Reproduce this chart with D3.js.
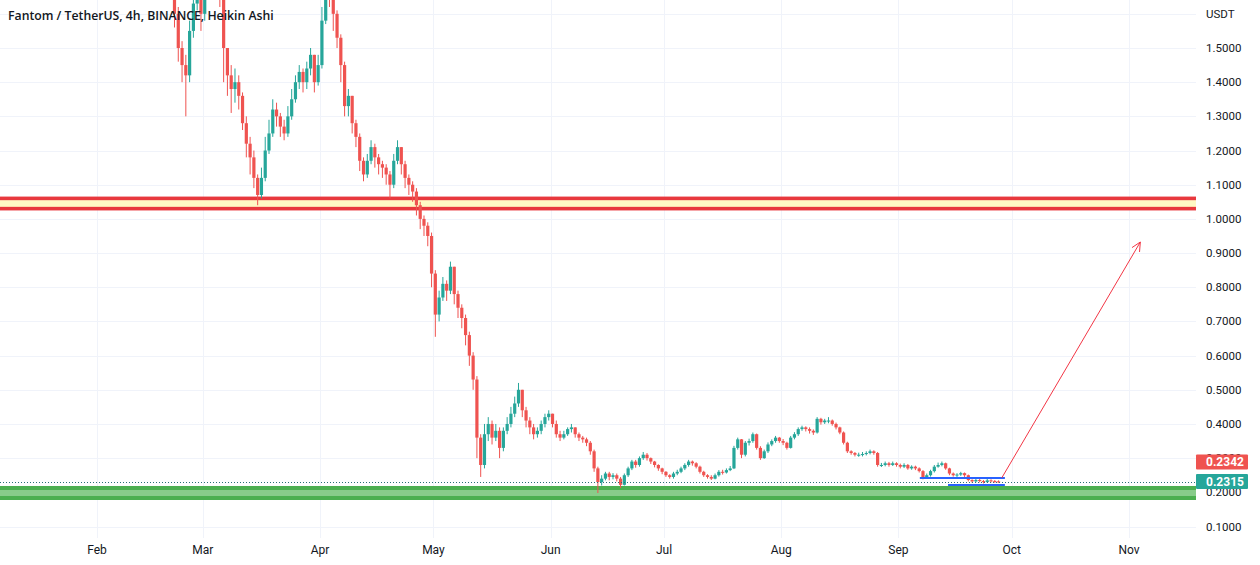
<!DOCTYPE html>
<html>
<head>
<meta charset="utf-8">
<script src="https://cdn.jsdelivr.net/npm/d3@7"></script>
<style>
  html, body { margin: 0; padding: 0; background: #ffffff; }
  svg { display: block; }
</style>
</head>
<body>
<svg id="chart" width="1260" height="565"></svg>
<script>
// ---------------- DATA ----------------
const title = "Fantom / TetherUS, 4h, BINANCE, Heikin Ashi";
const currency = "USDT";
const monthLabels = ["Feb","Mar","Apr","May","Jun","Jul","Aug","Sep","Oct","Nov"];
const monthStarts = ["2022-02-01","2022-03-01","2022-04-01","2022-05-01","2022-06-01","2022-07-01","2022-08-01","2022-09-01","2022-10-01","2022-11-01"];
const priceTicks = [0.1,0.2,0.3,0.4,0.5,0.6,0.7,0.8,0.9,1.0,1.1,1.2,1.3,1.4,1.5];
const gridTicks = [0.1,0.2,0.3,0.4,0.5,0.6,0.7,0.8,0.9,1.0,1.1,1.2,1.3,1.4,1.5,1.6];

// daily aggregated Heikin Ashi candles, first day = 2022-02-20
const firstDay = "2022-02-20";
const firstOpen = 1.75;
const closes = [
 1.70,1.60,1.50,1.45,1.42,1.55,1.63,1.70,1.60,1.72,
 1.80,1.78,1.72,1.66,1.50,1.42,1.38,1.40,1.36,1.28,
 1.22,1.18,1.12,1.07,1.12,1.20,1.25,1.32,1.30,1.27,
 1.25,1.30,1.35,1.40,1.43,1.40,1.44,1.48,1.40,1.45,
 1.58,1.68,1.66,1.60,1.53,1.45,1.33,1.36,1.28,1.24,
 1.17,1.13,1.17,1.21,1.18,1.16,1.15,1.13,1.10,1.17,
 1.21,1.16,1.12,1.10,1.08,1.04,1.00,0.98,0.95,0.84,
 0.72,0.77,0.81,0.79,0.86,0.78,0.74,0.71,0.66,0.60,
 0.53,0.36,0.28,0.37,0.40,0.36,0.38,0.33,0.38,0.40,
 0.43,0.46,0.50,0.44,0.41,0.39,0.37,0.38,0.40,0.42,
 0.43,0.40,0.37,0.36,0.37,0.385,0.39,0.37,0.36,0.355,
 0.345,0.32,0.27,0.23,0.24,0.255,0.245,0.25,0.24,0.222,
 0.25,0.27,0.29,0.28,0.30,0.31,0.30,0.29,0.28,0.27,
 0.26,0.25,0.245,0.255,0.26,0.27,0.28,0.29,0.285,0.275,
 0.26,0.25,0.245,0.24,0.25,0.26,0.258,0.265,0.27,0.33,
 0.355,0.31,0.345,0.35,0.37,0.33,0.30,0.32,0.34,0.35,
 0.36,0.35,0.345,0.33,0.36,0.37,0.385,0.39,0.385,0.38,
 0.375,0.415,0.405,0.41,0.41,0.40,0.39,0.375,0.345,0.32,
 0.315,0.31,0.31,0.312,0.315,0.32,0.315,0.28,0.28,0.285,
 0.28,0.285,0.28,0.275,0.28,0.27,0.275,0.27,0.262,0.242,
 0.25,0.262,0.275,0.28,0.285,0.27,0.255,0.25,0.252,0.256,
 0.25,0.236,0.232,0.236,0.233,0.23,0.235,0.233,0.232,0.2315
];
const highs = [
 1.78,1.72,1.62,1.52,1.48,1.58,1.68,1.75,1.70,1.76,
 1.85,1.84,1.80,1.74,1.68,1.50,1.45,1.44,1.42,1.37,
 1.30,1.24,1.20,1.13,1.15,1.24,1.29,1.35,1.34,1.31,
 1.29,1.33,1.38,1.42,1.45,1.44,1.46,1.50,1.48,1.48,
 1.62,1.72,1.72,1.68,1.61,1.54,1.46,1.38,1.36,1.29,
 1.25,1.18,1.19,1.23,1.22,1.19,1.17,1.16,1.14,1.19,
 1.23,1.21,1.17,1.13,1.11,1.09,1.05,1.01,0.99,0.96,
 0.85,0.79,0.83,0.82,0.875,0.86,0.79,0.75,0.72,0.67,
 0.61,0.54,0.37,0.40,0.42,0.41,0.40,0.39,0.39,0.42,
 0.45,0.48,0.52,0.50,0.45,0.42,0.40,0.39,0.41,0.43,
 0.44,0.43,0.41,0.38,0.38,0.39,0.40,0.39,0.375,0.365,
 0.36,0.35,0.325,0.275,0.25,0.26,0.26,0.256,0.255,0.245,
 0.255,0.275,0.295,0.295,0.305,0.318,0.315,0.302,0.292,0.282,
 0.272,0.262,0.253,0.26,0.266,0.275,0.285,0.295,0.293,0.288,
 0.278,0.263,0.253,0.25,0.255,0.265,0.266,0.27,0.277,0.336,
 0.36,0.356,0.35,0.357,0.375,0.372,0.335,0.325,0.346,0.355,
 0.365,0.362,0.356,0.348,0.365,0.376,0.39,0.395,0.393,0.39,
 0.384,0.42,0.418,0.415,0.42,0.413,0.404,0.392,0.378,0.348,
 0.323,0.318,0.316,0.318,0.32,0.325,0.323,0.318,0.286,0.29,
 0.289,0.29,0.288,0.284,0.285,0.283,0.279,0.278,0.273,0.265,
 0.255,0.266,0.28,0.287,0.29,0.287,0.272,0.258,0.256,0.26,
 0.258,0.252,0.238,0.24,0.239,0.236,0.239,0.238,0.236,0.235
];
const lows = [
 1.66,1.56,1.46,1.40,1.30,1.40,1.53,1.61,1.55,1.58,
 1.70,1.74,1.68,1.62,1.40,1.36,1.31,1.34,1.32,1.26,
 1.18,1.13,1.09,1.04,1.06,1.11,1.19,1.24,1.27,1.24,
 1.23,1.24,1.29,1.34,1.38,1.37,1.38,1.42,1.37,1.39,
 1.44,1.57,1.62,1.55,1.50,1.40,1.30,1.30,1.25,1.21,
 1.14,1.11,1.12,1.16,1.15,1.13,1.12,1.10,1.06,1.09,
 1.16,1.13,1.09,1.07,1.05,1.01,0.97,0.95,0.92,0.80,
 0.655,0.70,0.76,0.76,0.78,0.75,0.71,0.68,0.63,0.57,
 0.50,0.30,0.245,0.27,0.35,0.34,0.35,0.30,0.32,0.37,
 0.39,0.42,0.45,0.42,0.39,0.37,0.355,0.36,0.37,0.39,
 0.41,0.39,0.36,0.35,0.355,0.365,0.375,0.36,0.35,0.345,
 0.335,0.31,0.26,0.198,0.22,0.235,0.235,0.238,0.232,0.213,
 0.22,0.245,0.265,0.272,0.275,0.295,0.293,0.283,0.273,0.263,
 0.253,0.245,0.24,0.24,0.25,0.256,0.265,0.275,0.278,0.27,
 0.255,0.245,0.24,0.236,0.238,0.246,0.252,0.255,0.262,0.268,
 0.325,0.30,0.305,0.337,0.345,0.325,0.295,0.298,0.315,0.335,
 0.345,0.345,0.338,0.325,0.328,0.355,0.365,0.38,0.378,0.372,
 0.368,0.372,0.398,0.40,0.402,0.395,0.384,0.37,0.34,0.315,
 0.31,0.305,0.304,0.305,0.308,0.311,0.31,0.275,0.274,0.276,
 0.275,0.277,0.275,0.27,0.271,0.266,0.266,0.265,0.258,0.238,
 0.24,0.246,0.258,0.272,0.276,0.266,0.25,0.246,0.245,0.248,
 0.245,0.232,0.228,0.229,0.229,0.226,0.228,0.229,0.228,0.228
];

// drawings (in date / price space)
const resistanceZone = [1.030, 1.060];
const supportZone = [0.1834, 0.2127];
const boxLines = [
  { from: "2022-09-06T16:00", to: "2022-09-29T04:00", price: 0.2420 },
  { from: "2022-09-14T03:00", to: "2022-09-29T04:00", price: 0.2215 }
];
const arrowFrom = { date: "2022-09-28T08:00", price: 0.2420 };
const arrowTo   = { date: "2022-11-04T00:00", price: 0.9324 };
const lastPrice = 0.2315;
const priceLabels = [
  { text: "0.2342", color: "#ef5350", offset: -19.5 },
  { text: "0.2315", color: "#26a69a", offset: 0 }
];

// ---------------- LAYOUT ----------------
const W = 1260, H = 565;
const plotRight = 1196, plotBottom = 538;
const svg = d3.select("#chart");

const x = d3.scaleUtc()
  .domain([new Date("2022-02-01T00:00Z"), new Date("2022-11-01T00:00Z")])
  .range([97, 1129]);
const y = d3.scaleLinear().domain([0.1, 1.5]).range([526.5, 48]);

const parse = s => new Date(s.length <= 10 ? s + "T00:00Z" : s + "Z");

svg.append("defs").append("clipPath").attr("id", "plotClip")
  .append("rect").attr("x", 0).attr("y", 0).attr("width", plotRight).attr("height", plotBottom);

// grid
const grid = svg.append("g").attr("stroke", "#f0f3fa").attr("stroke-width", 1);
grid.selectAll(".hg").data(gridTicks).join("line")
  .attr("x1", 0).attr("x2", plotRight)
  .attr("y1", d => Math.round(y(d)) + 0.5).attr("y2", d => Math.round(y(d)) + 0.5);
grid.selectAll(".vg").data(monthStarts).join("line")
  .attr("y1", 0).attr("y2", plotBottom)
  .attr("x1", d => Math.round(x(parse(d))) + 0.5).attr("x2", d => Math.round(x(parse(d))) + 0.5);

const plot = svg.append("g").attr("clip-path", "url(#plotClip)");

// zones (extend past both plot edges so only top/bottom borders show)
function zone(range, stroke, fill, sw) {
  plot.append("rect")
    .attr("x", -10).attr("width", plotRight + 20)
    .attr("y", y(range[1])).attr("height", y(range[0]) - y(range[1]))
    .attr("fill", fill).attr("stroke", stroke).attr("stroke-width", sw);
}
zone(resistanceZone, "#e8383d", "#fff9c4", 3.6);
zone(supportZone, "#4caf50", "#88cc8a", 4);

// candles
const day0 = parse(firstDay);
const candles = closes.map((c, i) => {
  const open = i === 0 ? firstOpen : closes[i - 1];
  return {
    t: d3.utcHour.offset(d3.utcDay.offset(day0, i), 12),
    open, close: c, high: highs[i], low: lows[i]
  };
});
const up = "#26a69a", down = "#ef5350";
const cg = plot.append("g");
cg.selectAll("line.wick").data(candles).join("line")
  .attr("x1", d => x(d.t)).attr("x2", d => x(d.t))
  .attr("y1", d => y(d.high)).attr("y2", d => y(d.low))
  .attr("stroke", d => d.close >= d.open ? up : down).attr("stroke-width", 1);
cg.selectAll("rect.body").data(candles).join("rect")
  .attr("x", d => x(d.t) - 1.6).attr("width", 3.2)
  .attr("y", d => y(Math.max(d.open, d.close)))
  .attr("height", d => Math.max(1, Math.abs(y(d.open) - y(d.close))))
  .attr("fill", d => d.close >= d.open ? up : down);

// last price dotted line
plot.append("line")
  .attr("x1", 0).attr("x2", plotRight)
  .attr("y1", Math.round(y(lastPrice)) + 0.5).attr("y2", Math.round(y(lastPrice)) + 0.5)
  .attr("stroke", "#2a6f78").attr("stroke-width", 1).attr("stroke-dasharray", "1,2");

// blue lines
plot.selectAll("line.box").data(boxLines).join("line")
  .attr("x1", d => x(parse(d.from))).attr("x2", d => x(parse(d.to)))
  .attr("y1", d => y(d.price)).attr("y2", d => y(d.price))
  .attr("stroke", "#2962ff").attr("stroke-width", 2);

// arrow
const ax1 = x(parse(arrowFrom.date)), ay1 = y(arrowFrom.price);
const ax2 = x(parse(arrowTo.date)), ay2 = y(arrowTo.price);
const ang = Math.atan2(ay2 - ay1, ax2 - ax1);
const hl = 10, ha = Math.PI / 7;
plot.append("path")
  .attr("d", `M${ax1},${ay1}L${ax2},${ay2}M${ax2 - hl * Math.cos(ang - ha)},${ay2 - hl * Math.sin(ang - ha)}L${ax2},${ay2}L${ax2 - hl * Math.cos(ang + ha)},${ay2 - hl * Math.sin(ang + ha)}`)
  .attr("fill", "none").attr("stroke", "#f23645").attr("stroke-width", 1);

// right axis labels
const font = "Roboto, 'Liberation Sans', sans-serif";
const axisG = svg.append("g").attr("font-family", font).attr("font-size", 11.5).attr("fill", "#131722");
axisG.selectAll("text.p").data(priceTicks).join("text")
  .attr("x", 1206).attr("y", d => y(d)).attr("dy", "0.35em")
  .text(d => d.toFixed(4));
axisG.append("text").attr("x", 1206).attr("y", 14).attr("dy", "0.35em").text(currency);

// price labels (drawn over the axis, as in the reference)
const lp = y(lastPrice);
const plG = svg.append("g");
priceLabels.forEach(p => {
  const cy = lp + p.offset;
  plG.append("rect").attr("x", 1196).attr("y", cy - 7.5).attr("width", 52).attr("height", 15)
    .attr("fill", p.color).attr("rx", 1);
  plG.append("text").attr("x", 1206).attr("y", cy).attr("dy", "0.36em")
    .attr("font-family", font).attr("font-size", 12).attr("font-weight", 700)
    .attr("fill", "#ffffff").text(p.text);
});

// time axis labels
const tG = svg.append("g").attr("font-family", font).attr("font-size", 12).attr("fill", "#131722")
  .attr("text-anchor", "middle");
tG.selectAll("text").data(monthStarts).join("text")
  .attr("x", d => x(parse(d))).attr("y", 550).attr("dy", "0.35em")
  .text((d, i) => monthLabels[i]);

// title
svg.append("text").attr("x", 8).attr("y", 16).attr("dy", "0.35em")
  .attr("font-family", "'Open Sans', sans-serif").attr("font-size", 12.25).attr("font-weight", 600)
  .attr("fill", "#131722").text(title);
</script>
</body>
</html>
